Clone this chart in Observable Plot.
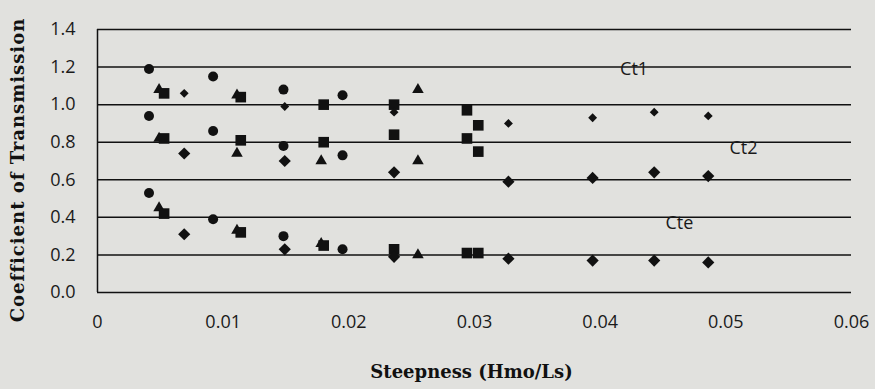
<!DOCTYPE html>
<html>
<head>
<meta charset="utf-8">
<script src="https://cdn.jsdelivr.net/npm/d3@7"></script>
<script src="https://cdn.jsdelivr.net/npm/@observablehq/plot@0.6"></script>
<style>
  html, body { margin: 0; padding: 0; background: #e1e1de; }
  #chart svg { display: block; }
  .ylab text { letter-spacing: 1px; }
</style>
</head>
<body>
<div id="chart"></div>
<script>
// Tick values
const xTicks = [0, 0.01, 0.02, 0.03, 0.04, 0.05, 0.06];
const yTicks = [0, 0.2, 0.4, 0.6, 0.8, 1.0, 1.2, 1.4];

// Circle series
const circleX   = [0.0041, 0.0092, 0.0148, 0.0195];
const circleCt1 = [1.19, 1.15, 1.08, 1.05];
const circleCt2 = [0.94, 0.86, 0.78, 0.73];
const circleCte = [0.53, 0.39, 0.30, 0.23];

// Triangle series
const triangleX   = [0.0049, 0.0111, 0.0178, 0.0255];
const triangleCt1 = [1.08, 1.05, null, 1.08];
const triangleCt2 = [0.82, 0.74, 0.70, 0.70];
const triangleCte = [0.45, 0.33, 0.26, 0.20];

// Square series
const squareX   = [0.0053, 0.0114, 0.0180, 0.0236, 0.0294, 0.0303];
const squareCt1 = [1.06, 1.04, 1.00, 1.00, 0.97, 0.89];
const squareCt2 = [0.82, 0.81, 0.80, 0.84, 0.82, 0.75];
const squareCte = [0.42, 0.32, 0.25, 0.23, 0.21, 0.21];

// Diamond series
const diamondX   = [0.0069, 0.0149, 0.0236, 0.0327, 0.0394, 0.0443, 0.0486];
const diamondCt1 = [1.06, 0.99, 0.96, 0.90, 0.93, 0.96, 0.94];
const diamondCt2 = [0.74, 0.70, 0.64, 0.59, 0.61, 0.64, 0.62];
const diamondCte = [0.31, 0.23, 0.19, 0.18, 0.17, 0.17, 0.16];

// Curve labels
const curveNames = ["Ct1", "Ct2", "Cte"];
const curveLabelX = [0.0427, 0.0514, 0.0463];
const curveLabelY = [1.19, 0.77, 0.37];

function pts(xs, ys) {
  return xs.map((x, i) => ({x, y: ys[i]})).filter(d => d.y != null);
}

const ink = "#111";
const fmtX = d => d === 0 ? "0" : d.toFixed(2);

const chart = Plot.plot({
  width: 875,
  height: 389,
  marginLeft: 97,
  marginRight: 24,
  marginTop: 29,
  marginBottom: 97,
  style: { background: "#e1e1de", fontFamily: "'Open Sans', sans-serif", fontSize: "18px", color: "#1a1a1a" },
  x: { domain: [0, 0.06] },
  y: { domain: [0, 1.4] },
  marks: [
    Plot.ruleY(yTicks, { stroke: ink, strokeWidth: 1.5 }),
    Plot.ruleX([0], { y1: 0, y2: 1.4, stroke: ink, strokeWidth: 1.5 }),
    Plot.axisX({ ticks: xTicks, tickFormat: fmtX, tickSize: 0, tickPadding: 23, label: null }),
    Plot.axisY({ ticks: yTicks, tickFormat: d => d.toFixed(1), tickSize: 0, tickPadding: 22, label: null }),
    // triangles
    ...[triangleCt1, triangleCt2, triangleCte].map(ys =>
      Plot.dot(pts(triangleX, ys), { x: "x", y: "y", symbol: "triangle", r: 4.3, fill: ink, stroke: "none" })),
    // circles
    ...[circleCt1, circleCt2, circleCte].map(ys =>
      Plot.dot(pts(circleX, ys), { x: "x", y: "y", symbol: "circle", r: 5, fill: ink, stroke: "none" })),
    // squares
    ...[squareCt1, squareCt2, squareCte].map(ys =>
      Plot.dot(pts(squareX, ys), { x: "x", y: "y", symbol: "square", r: 6, fill: ink, stroke: "none" })),
    // diamonds
    Plot.dot(pts(diamondX, diamondCt1), { x: "x", y: "y", symbol: "diamond2", r: 4, fill: ink, stroke: "none" }),
    Plot.dot(pts(diamondX, diamondCt2), { x: "x", y: "y", symbol: "diamond2", r: 5.5, fill: ink, stroke: "none" }),
    Plot.dot(pts(diamondX, diamondCte), { x: "x", y: "y", symbol: "diamond2", r: 5.5, fill: ink, stroke: "none" }),
    // curve labels
    Plot.text(curveNames, { x: (d, i) => curveLabelX[i], y: (d, i) => curveLabelY[i], text: d => d,
      fontSize: 18, fill: "#1a1a1a" }),
    // axis titles
    Plot.text(["Coefficient of Transmission"], { frameAnchor: "left", textAnchor: "middle", lineAnchor: "middle",
      dx: -79, dy: 9, rotate: -90, className: "ylab",
      fontFamily: "'DejaVu Serif', serif", fontWeight: "bold", fontSize: 18, fill: "#111" }),
    Plot.text(["Steepness (Hmo/Ls)"], { frameAnchor: "bottom", textAnchor: "middle", lineAnchor: "middle",
      dx: -3, dy: 80,
      fontFamily: "'DejaVu Serif', serif", fontWeight: "bold", fontSize: 18, fill: "#111" })
  ]
});
document.getElementById("chart").appendChild(chart);
</script>
</body>
</html>
